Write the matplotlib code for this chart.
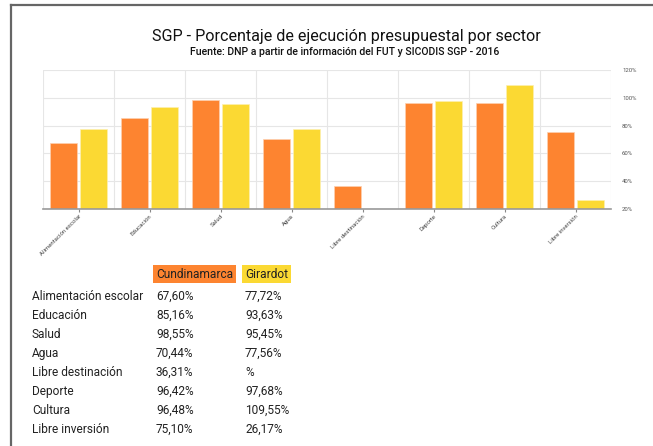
import numpy as np
import matplotlib.pyplot as plt
from matplotlib.lines import Line2D
from matplotlib.ticker import FixedLocator

sectores = ["Alimentación escolar", "Educación", "Salud", "Agua",
            "Libre destinación", "Deporte", "Cultura", "Libre inversión"]
cundinamarca = [67.60, 85.16, 98.55, 70.44, 36.31, 96.42, 96.48, 75.10]
girardot = [77.72, 93.63, 95.45, 77.56, np.nan, 97.68, 109.55, 26.17]
cund_txt = ["67,60%", "85,16%", "98,55%", "70,44%", "36,31%", "96,42%", "96,48%", "75,10%"]
gir_txt = ["77,72%", "93,63%", "95,45%", "77,56%", "%", "97,68%", "109,55%", "26,17%"]
y_ticks = [20, 40, 60, 80, 100, 120]

c_cund = "#fd8430"
c_gir = "#fbd933"

plt.rcParams['font.family'] = ['Roboto', 'DejaVu Sans']

fig = plt.figure(figsize=(6.53, 4.46), dpi=100)

# marco gris arriba y a la izquierda
fig.add_artist(Line2D([11/653, 11/653], [0, 1 - 5/446], color="#666666", lw=1.6))
fig.add_artist(Line2D([11/653, 1], [1 - 5/446, 1 - 5/446], color="#666666", lw=1.6))

fig.text(346/653, 1 - 37/446, "SGP - Porcentaje de ejecución presupuestal por sector",
         ha="center", va="center", fontsize=11.6, color="#111111")
fig.text(345/653, 1 - 52/446, "Fuente: DNP a partir de información del FUT y SICODIS SGP - 2016",
         ha="center", va="center", fontsize=7.6, color="#111111", fontweight="medium")

ax = fig.add_axes([43/653, 1 - 209/446, 568/653, 139/446])
x = np.arange(len(sectores))
w = 0.38
ax.bar(x - 0.21, np.array(cundinamarca) - 20, w, bottom=20, color=c_cund,
       edgecolor="#fdd0b0", linewidth=0.5)
ax.bar(x + 0.21, np.array(girardot) - 20, w, bottom=20, color=c_gir,
       edgecolor="#fdf0b0", linewidth=0.5)

ax.set_xlim(-0.5, len(sectores) - 0.5)
ax.set_ylim(20, 120)
ax.set_yticks(y_ticks)
ax.set_yticklabels([f"{v}%" for v in y_ticks])
ax.yaxis.tick_right()
ax.tick_params(axis="y", length=0, labelsize=4.3, labelcolor="#555555", pad=8)
ax.set_xticks(x)
ax.set_xticklabels(sectores, rotation=45, ha="right", rotation_mode="anchor",
                   fontsize=4.3, color="#444444")
ax.tick_params(axis="x", length=2, color="#888888", pad=1.5)
ax.xaxis.set_minor_locator(FixedLocator(np.arange(-0.5, len(sectores), 1)))
ax.tick_params(axis="x", which="minor", length=0)
ax.grid(axis="y", color="#e6e6e6", lw=0.8)
ax.grid(axis="x", which="minor", color="#e6e6e6", lw=0.8)
ax.set_axisbelow(True)
for s in ["top", "left", "right"]:
    ax.spines[s].set_visible(False)
ax.spines["bottom"].set_color("#999999")
ax.spines["bottom"].set_linewidth(1.2)

# tabla de datos
fs = 8.6
fig.text(156/653, 1 - 274/446, "Cundinamarca", fontsize=fs, va="center", ha="left",
         color="#222222", bbox=dict(boxstyle="square,pad=0.25", fc=c_cund, ec="none"))
fig.text(245/653, 1 - 274/446, "Girardot", fontsize=fs, va="center", ha="left",
         color="#222222", bbox=dict(boxstyle="square,pad=0.25", fc=c_gir, ec="none"))
for i, s in enumerate(sectores):
    y = 1 - (296 + i * 19.1) / 446
    fig.text(32/653, y, s, fontsize=fs, va="center", color="#222222")
    fig.text(156/653, y, cund_txt[i], fontsize=fs, va="center", color="#222222")
    fig.text(245/653, y, gir_txt[i], fontsize=fs, va="center", color="#222222")

fig.savefig("out.png", dpi=100)
